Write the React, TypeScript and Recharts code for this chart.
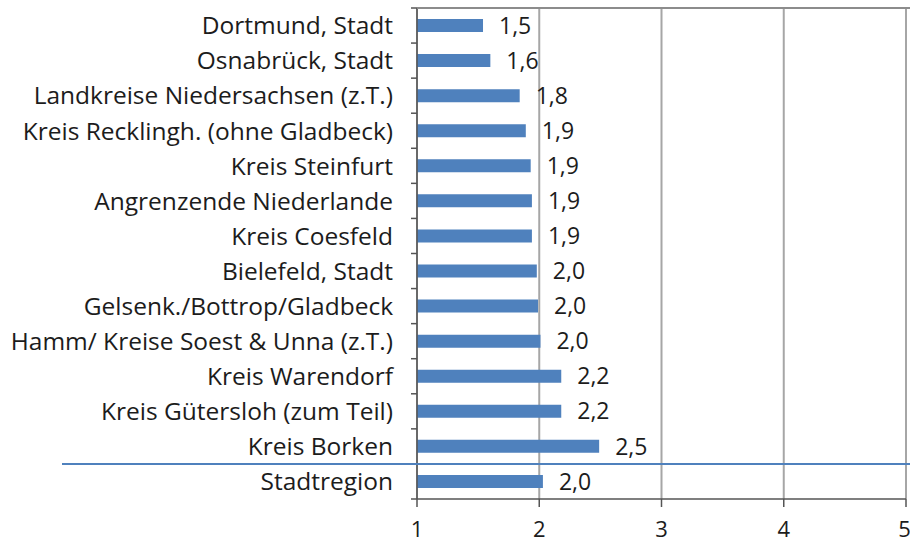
import { Bar, BarChart, CartesianGrid, LabelList, XAxis, YAxis } from "recharts";

const categories = [
  "Dortmund, Stadt",
  "Osnabrück, Stadt",
  "Landkreise Niedersachsen (z.T.)",
  "Kreis Recklingh. (ohne Gladbeck)",
  "Kreis Steinfurt",
  "Angrenzende Niederlande",
  "Kreis Coesfeld",
  "Bielefeld, Stadt",
  "Gelsenk./Bottrop/Gladbeck",
  "Hamm/ Kreise Soest & Unna (z.T.)",
  "Kreis Warendorf",
  "Kreis Gütersloh (zum Teil)",
  "Kreis Borken",
  "Stadtregion",
];
const values = [1.54, 1.6, 1.84, 1.89, 1.93, 1.94, 1.94, 1.98, 1.99, 2.01, 2.18, 2.18, 2.49, 2.03];
const xTicks = [1, 2, 3, 4, 5];
// the summary row gets a blue rule above it
const separatedRow = "Stadtregion";

const data = categories.map((name, i) => ({ name, value: values[i] }));

const W = 910;
const H = 543;
const margin = { top: 8, right: 4, bottom: 0, left: 0 };
const xAxisHeight = 44;
const yAxisWidth = 417;
const band = (H - margin.top - margin.bottom - xAxisHeight) / categories.length;
const font = "'Open Sans', sans-serif";
const textColor = "#1c1c1c";
const blue = "#4F81BD";

function CategoryTick(props: any) {
  const { x, y, payload, index } = props;
  const last = index === categories.length - 1;
  return (
    <g>
      <text x={x - 24} y={y} dy="0.36em" textAnchor="end" fill={textColor} fontSize={24.5} fontFamily={font}>
        {payload.value}
      </text>
      <line x1={x - 6} x2={x} y1={y - band / 2} y2={y - band / 2} stroke="#555" strokeWidth={1.5} />
      {last && <line x1={x - 6} x2={x} y1={y + band / 2} y2={y + band / 2} stroke="#555" strokeWidth={1.5} />}
      {index === 0 && <line x1={x} x2={W} y1={y - band / 2} y2={y - band / 2} stroke="#8c8c8c" strokeWidth={2} />}
      {payload.value === separatedRow && (
        <line x1={62} x2={W} y1={y - band / 2} y2={y - band / 2} stroke={blue} strokeWidth={2} />
      )}
    </g>
  );
}

export default function App() {
  return (
    <div style={{ position: "absolute", left: 0, top: 0, width: W, height: H, overflow: "hidden", background: "#fff" }}>
      <BarChart width={W} height={H} data={data} layout="vertical" margin={margin} barCategoryGap={11}>
        <CartesianGrid stroke="#a6a6a6" strokeWidth={2} horizontal={false} />
        <XAxis
          type="number"
          domain={[1, 5]}
          ticks={xTicks}
          allowDataOverflow
          height={xAxisHeight}
          stroke="#555"
          strokeWidth={1.5}
          tickSize={8}
          tickMargin={14}
          tick={{ fill: textColor, fontSize: 22, fontFamily: font }}
        />
        <YAxis
          type="category"
          dataKey="name"
          width={yAxisWidth}
          stroke="#555"
          strokeWidth={1.5}
          tickLine={false}
          tickSize={0}
          tickMargin={0}
          interval={0}
          tick={<CategoryTick />}
        />
        <Bar dataKey="value" fill={blue} isAnimationActive={false}>
          <LabelList
            dataKey="value"
            position="right"
            offset={16}
            fill={textColor}
            fontSize={23}
            fontFamily={font}
            formatter={(v: any) => Number(v).toFixed(1).replace(".", ",")}
          />
        </Bar>
      </BarChart>
    </div>
  );
}
